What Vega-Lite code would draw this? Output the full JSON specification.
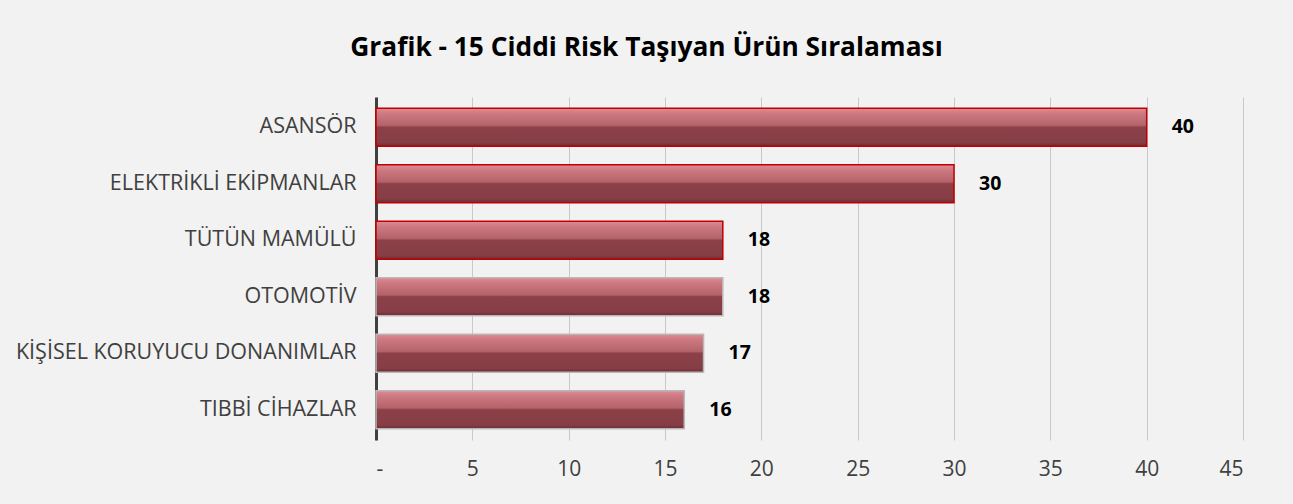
{
  "$schema": "https://vega.github.io/schema/vega-lite/v6.json",
  "width": 867,
  "height": 343,
  "autosize": {"type": "none"},
  "padding": {"left": 376, "top": 97, "right": 50, "bottom": 64},
  "background": "#f2f2f2",
  "config": {"view": {"stroke": null}},
  "title": {
    "text": "Grafik - 15 Ciddi Risk Taşıyan Ürün Sıralaması",
    "font": "Open Sans",
    "fontSize": 26.3,
    "fontWeight": "bold",
    "color": "#000000",
    "anchor": "middle",
    "dx": -163,
    "offset": 36
  },
  "data": {
    "values": [
      {"urun": "ASANSÖR", "sayi": 40},
      {"urun": "ELEKTRİKLİ EKİPMANLAR", "sayi": 30},
      {"urun": "TÜTÜN MAMÜLÜ", "sayi": 18},
      {"urun": "OTOMOTİV", "sayi": 18},
      {"urun": "KİŞİSEL KORUYUCU DONANIMLAR", "sayi": 17},
      {"urun": "TIBBİ CİHAZLAR", "sayi": 16}
    ]
  },
  "encoding": {
    "y": {
      "field": "urun",
      "type": "nominal",
      "sort": null,
      "title": null,
      "scale": {"paddingInner": 0.33, "paddingOuter": 0.2},
      "axis": {
        "ticks": false,
        "labelPadding": 20,
        "labelLimit": 0,
        "labelFont": "Open Sans",
        "labelFontSize": 21.5,
        "labelColor": "#404040",
        "domainColor": "#404040",
        "domainWidth": 3,
        "grid": false
      }
    },
    "x": {
      "field": "sayi",
      "type": "quantitative",
      "title": null,
      "scale": {"domain": [0, 45], "nice": false},
      "axis": {
        "values": [0, 5, 10, 15, 20, 25, 30, 35, 40, 45],
        "labelExpr": "datum.value == 0 ? '-' : datum.label",
        "domain": false,
        "ticks": false,
        "labelPadding": 18,
        "labelFont": "Open Sans",
        "labelFontSize": 21,
        "labelColor": "#404040",
        "grid": true,
        "gridColor": "#c9c9c9",
        "gridWidth": 1
      }
    }
  },
  "layer": [
    {
      "mark": {
        "type": "bar",
        "strokeWidth": 1.5,
        "color": {
          "gradient": "linear",
          "x1": 0, "y1": 0, "x2": 0, "y2": 1,
          "stops": [
            {"offset": 0, "color": "#e08a92"},
            {"offset": 0.15, "color": "#cc7880"},
            {"offset": 0.45, "color": "#b5636b"},
            {"offset": 0.5, "color": "#8c4048"},
            {"offset": 0.9, "color": "#863e46"},
            {"offset": 1, "color": "#6e2a32"}
          ]
        }
      },
      "encoding": {
        "stroke": {
          "condition": {"test": "datum.sayi >= 18 && datum.urun != 'OTOMOTİV'", "value": "#c00000"},
          "value": "#b8b8b8"
        }
      }
    },
    {
      "mark": {
        "type": "text",
        "align": "left",
        "baseline": "middle",
        "dx": 25,
        "font": "Open Sans",
        "fontSize": 19.5,
        "fontWeight": "bold",
        "color": "#000000"
      },
      "encoding": {
        "text": {"field": "sayi", "type": "quantitative"}
      }
    }
  ]
}
